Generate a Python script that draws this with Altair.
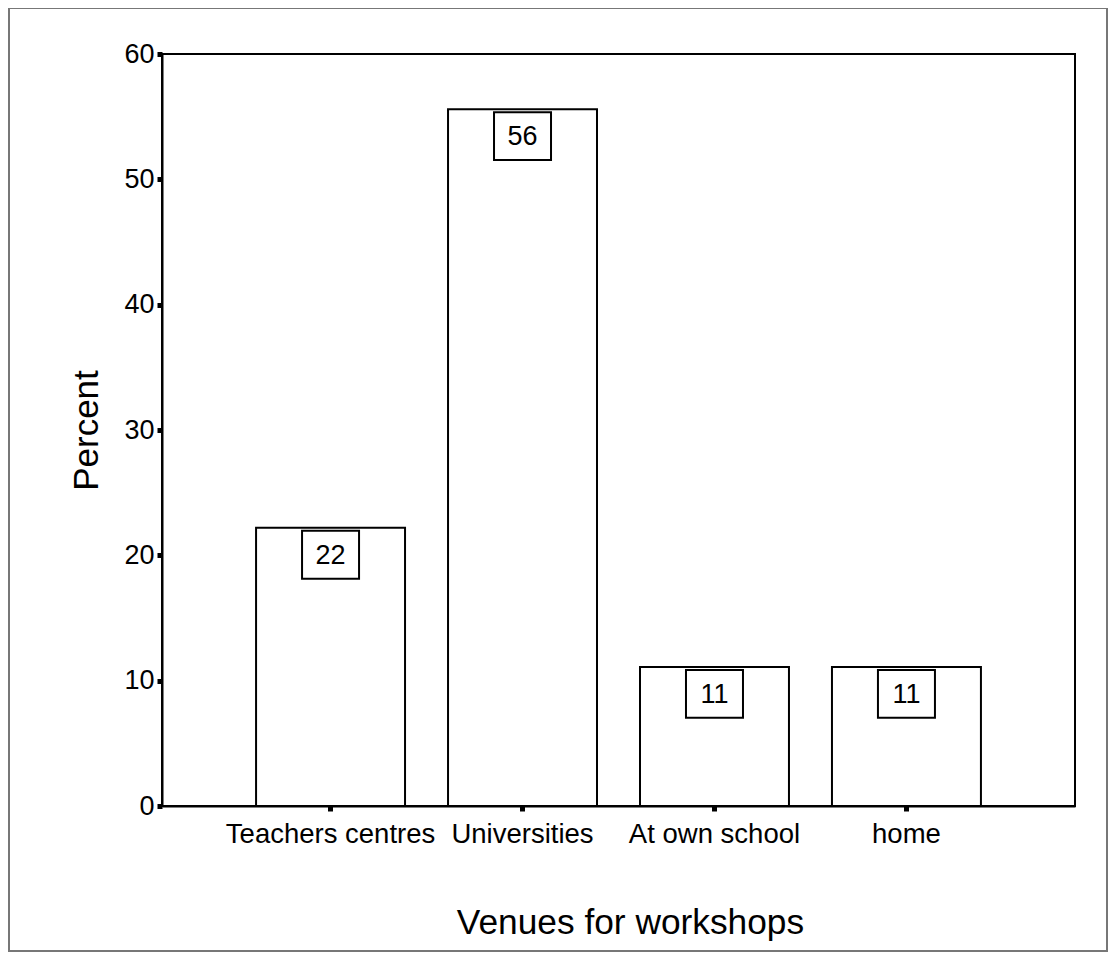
import altair as alt
import pandas as pd

venues = ["Teachers centres", "Universities", "At own school", "home"]
percent = [22.2, 55.6, 11.1, 11.1]
labels = ["22", "56", "11", "11"]
y_ticks = [0, 10, 20, 30, 40, 50, 60]

df = pd.DataFrame({"venue": venues, "percent": percent, "label": labels})
frame_df = pd.DataFrame({"k": [0]})

FONT = "Liberation Sans"

x = alt.X("venue:N", sort=venues,
          scale=alt.Scale(paddingInner=0.224, paddingOuter=0.49),
          axis=alt.Axis(title="Venues for workshops", labelAngle=0,
                        labelFontSize=27.5, labelPadding=9, labelLimit=1000,
                        titleFontSize=35.3, titleX=468, titleAlign="center",
                        titleFontWeight="normal", titlePadding=58,
                        tickSize=5, tickWidth=5, tickColor="black",
                        domainColor="black", domainWidth=2,
                        labelColor="black", titleColor="black",
                        labelFont=FONT, titleFont=FONT))
y = alt.Y("percent:Q",
          scale=alt.Scale(domain=[0, 60], nice=False),
          axis=alt.Axis(title="Percent", values=y_ticks, grid=False,
                        labelFontSize=27, labelPadding=3, titleFontSize=35,
                        titleFontWeight="normal", titlePadding=19,
                        tickSize=5, tickWidth=5, tickColor="black",
                        domainColor="black", domainWidth=2,
                        labelColor="black", titleColor="black",
                        labelFont=FONT, titleFont=FONT))

bars = alt.Chart(df).mark_bar(fill="white", stroke="black", strokeWidth=2).encode(x=x, y=y)

boxes = alt.Chart(df).mark_point(
    shape="M-1,-0.84 L1,-0.84 L1,0.84 L-1,0.84 Z",
    size=57 * 57, filled=True, fill="white", stroke="black", strokeWidth=2,
    opacity=1, yOffset=27
).encode(x=x, y=y)

texts = alt.Chart(df).mark_text(
    font=FONT, fontSize=27, color="black", baseline="middle", yOffset=28
).encode(x=x, y=y, text="label:N")

frame = alt.Chart(frame_df).mark_rect(
    fill=None, stroke="#777777", strokeWidth=2
).encode(x=alt.value(-153), x2=alt.value(945), y=alt.value(-46), y2=alt.value(897))

chart = alt.layer(frame, bars, boxes, texts).properties(
    width=913, height=752,
    autosize=alt.AutoSizeParams(type="none"),
    padding={"left": 154, "top": 46, "right": 33, "bottom": 146},
    background="white",
).configure_view(stroke="black", strokeWidth=2)

chart.save("out.html", embed_options={"renderer": "svg", "actions": False})
